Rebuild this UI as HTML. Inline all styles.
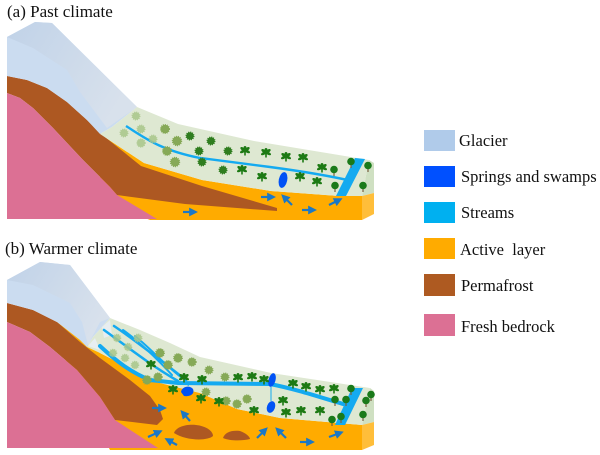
<!DOCTYPE html>
<html><head><meta charset="utf-8"><style>
html,body{margin:0;padding:0;background:#fff;}
svg{display:block;}
svg text{font-family:"Liberation Serif","Times New Roman",Times,serif;fill:#111;}
</style></head><body>
<svg width="600" height="455" viewBox="0 0 600 455" xmlns="http://www.w3.org/2000/svg" font-family="Liberation Serif, Times New Roman, serif">
<defs>
<linearGradient id="gtop" x1="0" y1="0" x2="1" y2="0.5">
<stop offset="0" stop-color="#c0d2e8"/><stop offset="1" stop-color="#d8e1ec"/>
</linearGradient>
<marker id="ah" markerWidth="4" markerHeight="4" refX="2.2" refY="2" orient="auto" markerUnits="strokeWidth">
<path d="M0,0 L4,2 L0,4 Z" fill="#1b78c6"/>
</marker>
<symbol id="palm" viewBox="-5 -5 10 10" overflow="visible">
<g fill="#1d7a14">
<ellipse cx="-2.3" cy="-2" rx="2.7" ry="1.5" transform="rotate(35 -2.3 -2)"/>
<ellipse cx="2.3" cy="-2" rx="2.7" ry="1.5" transform="rotate(-35 2.3 -2)"/>
<ellipse cx="-2.6" cy="0.6" rx="2.6" ry="1.4" transform="rotate(-25 -2.6 0.6)"/>
<ellipse cx="2.6" cy="0.6" rx="2.6" ry="1.4" transform="rotate(25 2.6 0.6)"/>
<ellipse cx="0" cy="-2.8" rx="1.5" ry="2.2"/>
<circle cx="0" cy="-0.5" r="2"/>
<rect x="-0.8" y="0.5" width="1.6" height="4"/>
</g>
</symbol>
<symbol id="rtree" viewBox="-5 -6 10 12" overflow="visible">
<rect x="-0.6" y="0" width="1.2" height="5" fill="#7a6040"/>
<circle cx="0" cy="-1.5" r="3.8" fill="#1a7a1a"/>
</symbol>
</defs>

<!-- ===== Panel (a) ===== -->
<text x="7" y="17" font-size="17" font-family="Liberation Serif, Times New Roman, serif">(a) Past climate</text>

<polygon points="100,134 144,163 202,180 271,191 339,196 362,196 362,220 150,220 100,200" fill="#ffab00"/>
<polygon points="362,196 369,160 374,163 374,193" fill="#cfe0c2"/>
<polygon points="362,196 374,193 374,214 362,220" fill="#ffbe3a"/>
<path d="M7,76 L27,80 L47,88 L67,102 L87,120 L100,133 L141,166 L202,186 L277,208 L277,211 L185,204 L117,195 L110,187 L83,160 L53,128 L33,108 L20,98 L7,93 Z" fill="#ad5822"/>
<path d="M7,93 L20,98 L33,108 L53,128 L83,160 L110,187 L117,195 L157,219 L7,219 Z" fill="#dc7094"/>
<polygon points="7,37 35,22 52,23 137,107 112,127 100,134 87,120 67,102 47,88 27,80 7,76" fill="#cbdcf0"/>
<polygon points="7,37 35,22 52,23 137,107 107,128 80,92 67,70 33,48" fill="url(#gtop)"/>
<polygon points="137,107 178,124 254,141 369,160 362,196 339,196 271,191 202,180 144,163 100,134 112,127" fill="#dee8d2"/>
<path d="M126,126 C145,138 160,150 200,158 L270,167 C300,171 330,176 352,181" fill="none" stroke="#14aaf0" stroke-width="2.4"/>
<polygon points="355,158 365,159 346,196 336,196" fill="#14aaf0"/>
<ellipse cx="283" cy="180" rx="4.2" ry="8" transform="rotate(12 283 180)" fill="#0052f5"/>
<g fill="#a9c68a" stroke="#a9c68a" stroke-width="1.4" stroke-dasharray="1 1" opacity="0.85">
<circle cx="136" cy="116" r="3.8"/><circle cx="141" cy="129" r="3.8"/><circle cx="124" cy="133" r="3.8"/>
<circle cx="141" cy="143" r="4"/><circle cx="153" cy="139" r="3.8"/>
</g>
<g fill="#86a957" stroke="#86a957" stroke-width="1.4" stroke-dasharray="1 1">
<circle cx="165" cy="129" r="4.3"/><circle cx="177" cy="141" r="4.5"/><circle cx="167" cy="151" r="4.3"/><circle cx="175" cy="162" r="4.5"/>
</g>
<g fill="#2f7d1f" stroke="#2f7d1f" stroke-width="1.4" stroke-dasharray="1 1">
<circle cx="190" cy="136" r="3.8"/><circle cx="211" cy="141" r="3.8"/><circle cx="199" cy="151" r="3.8"/><circle cx="228" cy="151" r="3.8"/>
<circle cx="202" cy="162" r="3.8"/><circle cx="223" cy="170" r="3.8"/>
</g>
<g>
<use href="#palm" x="240" y="146" width="10" height="10"/>
<use href="#palm" x="261" y="148" width="10" height="10"/>
<use href="#palm" x="281" y="152" width="10" height="10"/>
<use href="#palm" x="298" y="153" width="10" height="10"/>
<use href="#palm" x="317" y="163" width="10" height="10"/>
<use href="#palm" x="237" y="165" width="10" height="10"/>
<use href="#palm" x="257" y="172" width="10" height="10"/>
<use href="#palm" x="295" y="172" width="10" height="10"/>
<use href="#palm" x="312" y="177" width="10" height="10"/>
</g>
<g>
<use href="#rtree" x="329" y="165" width="10" height="12"/>
<use href="#rtree" x="346" y="157" width="10" height="12"/>
<use href="#rtree" x="363" y="161" width="10" height="12"/>
<use href="#rtree" x="330" y="181" width="10" height="12"/>
<use href="#rtree" x="358" y="181" width="10" height="12"/>
</g>
<g stroke="#1b78c6" stroke-width="2.2" fill="none" marker-end="url(#ah)">
<line x1="183" y1="212" x2="194" y2="212"/>
<line x1="261" y1="197" x2="272" y2="197"/>
<line x1="292" y1="205" x2="284" y2="197"/>
<line x1="302" y1="210" x2="313" y2="210"/>
<line x1="329" y1="205" x2="339" y2="200"/>
</g>

<!-- ===== Panel (b) ===== -->
<text x="5" y="254" font-size="17" font-family="Liberation Serif, Times New Roman, serif">(b) Warmer climate</text>

<polygon points="57,322 100,353 133,370 160,383 200,393 237,409 280,418 362,425 362,450 110,450 50,328" fill="#ffab00"/>
<polygon points="362,425 370,388 374,391 374,422" fill="#cfe0c2"/>
<polygon points="362,425 374,422 374,445 362,450" fill="#ffbe3a"/>
<path d="M7,303 L33,310 L57,322 L80,342 L100,358 L130,380 L150,396 L160,410 L163,419 L157,425 L115,420 L100,397 L77,370 L50,347 L30,332 L7,322 Z" fill="#ad5822"/>
<path d="M174,433 C176,427 186,424 196,425 C206,426 213,431 213,436 C208,441 186,441 174,433 Z" fill="#ad5822"/>
<path d="M223,438 C225,432 232,430 240,431 C246,433 250,437 250,439 C242,441 230,441 223,438 Z" fill="#ad5822"/>
<path d="M7,322 L30,332 L50,347 L77,370 L100,397 L115,420 L158,448 L7,448 Z" fill="#dc7094"/>
<polygon points="7,280 40,262 70,265 110,318 102,327 93,337 87,347 80,340 57,322 33,310 7,303" fill="#cbdcf0"/>
<polygon points="7,280 40,262 70,265 110,318 100,322 88,345 82,322 70,303 33,285" fill="url(#gtop)"/>
<polygon points="110,318 140,330 170,343 200,357 271,373 370,388 362,425 280,418 237,409 200,393 160,383 133,370 100,353 87,347 93,337 102,327" fill="#dee8d2"/>
<polygon points="102,327 110,320 112,335 104,338" fill="#e8eef4" opacity="0.9"/>
<polygon points="88,346 95,338 100,350" fill="#e8eef4" opacity="0.9"/>
<g fill="none" stroke="#14aaf0" stroke-linecap="round">
<path d="M100,346 C115,360 130,372 150,380 L178,383 L270,384 C300,390 322,398 350,406" stroke-width="4"/>
<path d="M104,330 C125,345 150,365 178,381" stroke-width="2.5"/>
<path d="M114,326 C135,340 160,360 186,380" stroke-width="2.5"/>
<path d="M123,330 C140,342 158,360 172,375" stroke-width="2"/>
<path d="M135,336 C150,348 165,365 182,378" stroke-width="2"/>
</g>
<polygon points="352,388 363,388 345,425 335,425" fill="#14aaf0"/>
<path d="M181,392 C182,386 190,385 193,389 C195,394 190,397 184,396 Z" fill="#0052f5"/>
<ellipse cx="272" cy="380" rx="3.5" ry="7" transform="rotate(15 272 380)" fill="#0052f5"/>
<ellipse cx="271" cy="407" rx="4" ry="6" transform="rotate(20 271 407)" fill="#0052f5"/>
<g stroke="#14aaf0" stroke-width="1"><line x1="188" y1="386" x2="189" y2="383"/><line x1="271" y1="387" x2="271" y2="401"/></g>
<g fill="#a9c68a" stroke="#a9c68a" stroke-width="1.4" stroke-dasharray="1 1" opacity="0.85">
<circle cx="117" cy="338" r="3.6"/><circle cx="128" cy="347" r="3.6"/><circle cx="113" cy="353" r="3.6"/>
<circle cx="125" cy="358" r="3.6"/><circle cx="135" cy="365" r="3.6"/><circle cx="138" cy="338" r="3.8"/>
</g>
<g fill="#86a957" stroke="#86a957" stroke-width="1.4" stroke-dasharray="1 1">
<circle cx="160" cy="353" r="4.2"/><circle cx="168" cy="365" r="4.2"/><circle cx="178" cy="358" r="4.2"/>
<circle cx="192" cy="362" r="4"/><circle cx="147" cy="380" r="4.2"/><circle cx="158" cy="377" r="4"/>
<circle cx="209" cy="370" r="3.8"/><circle cx="225" cy="377" r="3.8"/><circle cx="206" cy="392" r="3.8"/>
<circle cx="226" cy="401" r="4"/><circle cx="237" cy="404" r="4"/><circle cx="247" cy="399" r="4"/>
</g>
<g>
<use href="#palm" x="146" y="360" width="10" height="10"/>
<use href="#palm" x="179" y="373" width="10" height="10"/>
<use href="#palm" x="197" y="375" width="10" height="10"/>
<use href="#palm" x="233" y="373" width="10" height="10"/>
<use href="#palm" x="247" y="372" width="10" height="10"/>
<use href="#palm" x="259" y="375" width="10" height="10"/>
<use href="#palm" x="168" y="385" width="10" height="10"/>
<use href="#palm" x="196" y="394" width="10" height="10"/>
<use href="#palm" x="214" y="397" width="10" height="10"/>
<use href="#palm" x="249" y="406" width="10" height="10"/>
<use href="#palm" x="278" y="396" width="10" height="10"/>
<use href="#palm" x="281" y="408" width="10" height="10"/>
<use href="#palm" x="288" y="379" width="10" height="10"/>
<use href="#palm" x="301" y="382" width="10" height="10"/>
<use href="#palm" x="315" y="385" width="10" height="10"/>
<use href="#palm" x="329" y="384" width="10" height="10"/>
<use href="#palm" x="296" y="406" width="10" height="10"/>
<use href="#palm" x="315" y="406" width="10" height="10"/>
</g>
<g>
<use href="#rtree" x="346" y="384" width="10" height="12"/>
<use href="#rtree" x="330" y="395" width="10" height="12"/>
<use href="#rtree" x="341" y="395" width="10" height="12"/>
<use href="#rtree" x="361" y="396" width="10" height="12"/>
<use href="#rtree" x="366" y="390" width="10" height="12"/>
<use href="#rtree" x="358" y="410" width="10" height="12"/>
<use href="#rtree" x="327" y="415" width="10" height="12"/>
<use href="#rtree" x="336" y="412" width="10" height="12"/>
</g>
<g stroke="#1b78c6" stroke-width="2.2" fill="none" marker-end="url(#ah)">
<line x1="152" y1="408" x2="163" y2="408"/>
<line x1="190" y1="421" x2="183" y2="413"/>
<line x1="148" y1="437" x2="159" y2="432"/>
<line x1="177" y1="445" x2="168" y2="440"/>
<line x1="257" y1="438" x2="265" y2="430"/>
<line x1="286" y1="438" x2="278" y2="430"/>
<line x1="300" y1="442" x2="311" y2="442"/>
<line x1="329" y1="437" x2="340" y2="433"/>
</g>

<!-- ===== Legend ===== -->
<g font-family="Liberation Serif, Times New Roman, serif" font-size="16.5">
<rect x="424" y="130" width="31" height="21" fill="#b0cbea"/>
<text x="459" y="146">Glacier</text>
<rect x="424" y="166" width="31" height="21" fill="#0050ff"/>
<text x="461" y="182">Springs and swamps</text>
<rect x="424" y="202" width="31" height="21" fill="#00b0f0"/>
<text x="461" y="218">Streams</text>
<rect x="424" y="238" width="31" height="21" fill="#ffab00"/>
<text x="460" y="255">Active&#160; layer</text>
<rect x="424" y="274" width="31" height="22" fill="#ae5a21"/>
<text x="461" y="291">Permafrost</text>
<rect x="424" y="314" width="31" height="22" fill="#dc7094"/>
<text x="461" y="332">Fresh bedrock</text>
</g>
</svg>
</body></html>
